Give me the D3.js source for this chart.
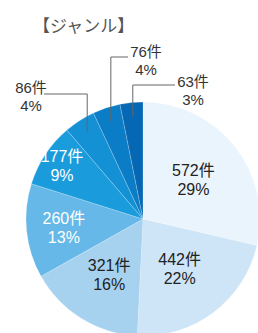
<!DOCTYPE html>
<html>
<head>
<meta charset="utf-8">
<script src="https://cdn.jsdelivr.net/npm/d3@7"></script>
<style>
  html, body { margin: 0; padding: 0; background: #fff; }
  svg { display: block; font-family: "Liberation Sans", "Noto Sans CJK JP", sans-serif; }
</style>
</head>
<body>
<div id="chart"></div>
<script>
const genres = ['A', 'B', 'C', 'D', 'E', 'F', 'G', 'H'];
const counts = [572, 442, 321, 260, 177, 86, 76, 63];
const percents = [29, 22, 16, 13, 9, 4, 4, 3];
const colors = ['#eaf4fc', '#cde5f7', '#a6d2f0', '#66b8e8', '#1a9cdc', '#1490d5', '#0b7cc6', '#0668b4'];
const title = '【ジャンル】';

const width = 258;
const height = 333;
const cx = 143;
const cy = 219;
const R = 117;

// label radius (fraction of R) for inside labels; null -> outside with leader line
const labelR = [0.55, 0.52, 0.55, 0.68, 0.83, null, null, null];
// outside labels: text centre x, first baseline, leader y
const outside = {
  5: { tx: 31, ty: 93, ly: 94, side: 'right' },
  6: { tx: 146, ty: 57, ly: 57, side: 'left' },
  7: { tx: 193, ty: 87, ly: 85, side: 'left' },
};

const data = genres.map((g, i) => ({ g, count: counts[i], pct: percents[i], color: colors[i], i }));

const svg = d3.select('#chart').append('svg')
  .attr('width', width)
  .attr('height', height);

svg.append('text')
  .attr('x', 33)
  .attr('y', 32)
  .attr('font-family', '"Noto Sans CJK JP", sans-serif')
  .attr('font-size', 17)
  .attr('fill', '#555')
  .text(title);

const pie = d3.pie().value(d => d.count).sort(null);
const arcs = pie(data);
const arc = d3.arc().innerRadius(0).outerRadius(R);

const g = svg.append('g').attr('transform', `translate(${cx},${cy})`);

g.selectAll('path.slice')
  .data(arcs)
  .join('path')
  .attr('class', 'slice')
  .attr('d', arc)
  .attr('fill', d => d.data.color)
  .attr('stroke', 'rgba(255,255,255,0.35)')
  .attr('stroke-width', 0.6);

// inside labels
const inside = arcs.filter(d => labelR[d.data.i] != null);
const lab = g.selectAll('text.in')
  .data(inside)
  .join('text')
  .attr('class', 'in')
  .attr('text-anchor', 'middle')
  .attr('font-size', 16)
  .attr('fill', d => d.data.i >= 3 ? '#fff' : '#222')
  .attr('transform', d => {
    const r = labelR[d.data.i] * R;
    const a = (d.startAngle + d.endAngle) / 2;
    return `translate(${r * Math.sin(a)},${-r * Math.cos(a)})`;
  });
lab.append('tspan').attr('x', 0).attr('dy', -3).text(d => d.data.count + '件');
lab.append('tspan').attr('x', 0).attr('dy', 19).text(d => d.data.pct + '%');

// outside labels with leader lines
const outs = arcs.filter(d => labelR[d.data.i] == null);
outs.forEach(d => {
  const o = outside[d.data.i];
  const a = (d.startAngle + d.endAngle) / 2;
  const r = 0.88 * R;
  const px = cx + r * Math.sin(a);
  const py = cy - r * Math.cos(a);
  const textHalf = 15;
  const lx = o.side === 'right' ? o.tx + textHalf - 2 : o.tx - textHalf - 3;
  svg.append('path')
    .attr('d', `M${lx},${o.ly}H${px}V${py}`)
    .attr('fill', 'none')
    .attr('stroke', '#666')
    .attr('stroke-width', 1);
  const t = svg.append('text')
    .attr('text-anchor', 'middle')
    .attr('font-size', 15)
    .attr('fill', '#333');
  t.append('tspan').attr('x', o.tx).attr('y', o.ty).text(d.data.count + '件');
  t.append('tspan').attr('x', o.tx).attr('y', o.ty + 18).text(d.data.pct + '%');
});
</script>
</body>
</html>
